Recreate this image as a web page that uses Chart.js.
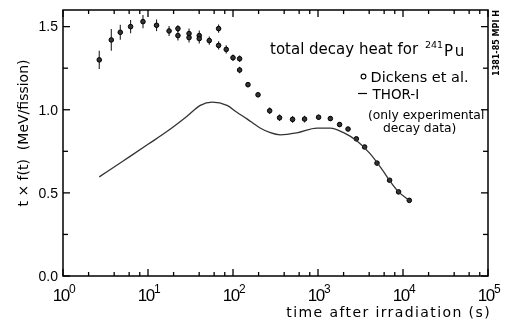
<!DOCTYPE html>
<html>
<head>
<meta charset="utf-8">
<script src="https://cdn.jsdelivr.net/npm/chart.js@4.4.1/dist/chart.umd.min.js"></script>
<style>
html,body{margin:0;padding:0;background:#fff;}
#wrap{width:511px;height:329px;}
</style>
</head>
<body>
<div id="wrap"><canvas id="c" width="511" height="329"></canvas></div>
<script>
// Dickens et al. measured points (time s, t*f(t) MeV/fission, error bar half-height)
const dickensT    = [2.67, 3.7, 4.72, 6.24, 8.73, 12.6, 17.7, 22.5, 22.5, 30.4, 30.4, 40.1, 40.1, 52.6, 67.7, 67.7, 83.3, 100, 119.6, 119.6, 150, 197, 270, 353, 502, 695, 1016, 1397, 1795, 2256, 2825, 3535, 4945, 6956, 8870, 11860];
const dickensHeat = [1.30, 1.42, 1.466, 1.50, 1.53, 1.508, 1.474, 1.488, 1.446, 1.458, 1.434, 1.446, 1.428, 1.416, 1.488, 1.387, 1.363, 1.313, 1.307, 1.239, 1.151, 1.09, 0.994, 0.952, 0.942, 0.944, 0.955, 0.947, 0.911, 0.884, 0.825, 0.776, 0.679, 0.576, 0.506, 0.455];
const dickensErr  = [0.055, 0.065, 0.045, 0.04, 0.04, 0.035, 0.03, 0.02, 0.03, 0.03, 0.03, 0.03, 0.03, 0.025, 0.025, 0.025, 0.025, 0.02, 0.02, 0.02, 0.015, 0.015, 0.02, 0.02, 0.02, 0.02, 0.015, 0.015, 0.015, 0.01, 0.01, 0.01, 0.01, 0.01, 0.01, 0.01];
// THOR-I calculation curve
const thorT    = [2.67, 5, 10, 18, 28.8, 41.2, 57, 85, 111, 146, 206, 275, 360, 566, 973, 1396, 2000, 2877, 4121, 5912, 6956, 8870, 11860];
const thorHeat = [0.596, 0.689, 0.792, 0.881, 0.961, 1.026, 1.046, 1.026, 0.985, 0.945, 0.892, 0.862, 0.849, 0.861, 0.889, 0.889, 0.862, 0.812, 0.735, 0.628, 0.574, 0.506, 0.455];
// axis ticks
const xTickExponents = [0, 1, 2, 3, 4, 5];
const xMinorMultipliers = [2, 4, 6, 8];
const yTickValues = [0, 0.5, 1.0, 1.5];
const yTickLabels = ['0.0', '0.5', '1.0', '1.5'];
const yMinorValues = [0.25, 0.75, 1.25];

const dickensData = dickensT.map((t, i) => ({x: t, y: dickensHeat[i]}));
const thorData = thorT.map((t, i) => ({x: t, y: thorHeat[i]}));

const decor = {
  id: 'decor',
  beforeDatasetsDraw(chart) {
    const {ctx} = chart;
    const xs = chart.scales.x, ys = chart.scales.y;
    ctx.save();
    ctx.strokeStyle = '#222';
    ctx.lineWidth = 1.1;
    dickensT.forEach((t, i) => {
      const px = xs.getPixelForValue(t);
      ctx.beginPath();
      ctx.moveTo(px, ys.getPixelForValue(dickensHeat[i] - dickensErr[i]));
      ctx.lineTo(px, ys.getPixelForValue(dickensHeat[i] + dickensErr[i]));
      ctx.stroke();
    });
    ctx.restore();
  },
  afterDraw(chart) {
    const {ctx, chartArea: a} = chart;
    const xs = chart.scales.x, ys = chart.scales.y;
    ctx.save();
    ctx.strokeStyle = '#000';
    ctx.fillStyle = '#000';
    ctx.lineWidth = 1.5;
    ctx.strokeRect(a.left, a.top, a.right - a.left, a.bottom - a.top);
    ctx.lineWidth = 1.3;
    const vt = (px, len) => {
      ctx.beginPath(); ctx.moveTo(px, a.bottom); ctx.lineTo(px, a.bottom - len); ctx.stroke();
      ctx.beginPath(); ctx.moveTo(px, a.top); ctx.lineTo(px, a.top + len); ctx.stroke();
    };
    const ht = (py, len) => {
      ctx.beginPath(); ctx.moveTo(a.left, py); ctx.lineTo(a.left + len, py); ctx.stroke();
      ctx.beginPath(); ctx.moveTo(a.right, py); ctx.lineTo(a.right - len, py); ctx.stroke();
    };
    xTickExponents.forEach(e => {
      vt(xs.getPixelForValue(Math.pow(10, e)), 7);
      if (e < 5) xMinorMultipliers.forEach(m => vt(xs.getPixelForValue(m * Math.pow(10, e)), 4));
    });
    yTickValues.forEach(v => ht(ys.getPixelForValue(v), 7));
    yMinorValues.forEach(v => ht(ys.getPixelForValue(v), 5));

    // y tick labels
    ctx.font = '14px "Liberation Sans"';
    ctx.textAlign = 'right';
    ctx.textBaseline = 'middle';
    yTickValues.forEach((v, i) => ctx.fillText(yTickLabels[i], a.left - 5, ys.getPixelForValue(v) + 1));

    // x tick labels: 10 with superscript exponent
    ctx.textBaseline = 'alphabetic';
    xTickExponents.forEach(e => {
      const px = xs.getPixelForValue(Math.pow(10, e));
      ctx.font = '17px "Liberation Sans Narrow", "Liberation Sans"';
      ctx.letterSpacing = '-1.5px';
      const base = '10';
      const wb = ctx.measureText(base).width;
      ctx.font = '12px "Liberation Sans"';
      ctx.letterSpacing = '0px';
      const we = ctx.measureText(String(e)).width;
      const x0 = px - (wb + we) / 2 + 1;
      ctx.textAlign = 'left';
      ctx.font = '17px "Liberation Sans Narrow", "Liberation Sans"';
      ctx.letterSpacing = '-1.5px';
      ctx.fillText(base, x0, 300.5);
      ctx.font = '12px "Liberation Sans"';
      ctx.letterSpacing = '0px';
      ctx.fillText(String(e), x0 + wb + 0.5, 292.5);
    });

    // x axis title
    ctx.font = '14px "DejaVu Sans"';
    ctx.letterSpacing = '1.4px';
    ctx.textAlign = 'right';
    ctx.fillText('time after irradiation (s)', 491, 316.5);
    ctx.letterSpacing = '0px';

    // y axis title
    ctx.save();
    ctx.translate(28, 133);
    ctx.rotate(-Math.PI / 2);
    ctx.textAlign = 'center';
    ctx.font = '14px "DejaVu Sans"';
    ctx.fillText('t × f(t)  (MeV/fission)', 0, 0);
    ctx.restore();

    // plot title text
    ctx.textAlign = 'left';
    ctx.font = '15px "DejaVu Sans"';
    ctx.fillText('total decay heat for', 270, 54);
    ctx.font = '9.5px "DejaVu Sans"';
    ctx.fillText('241', 425, 47.5);
    ctx.font = '15px "DejaVu Sans"';
    ctx.letterSpacing = '2px';
    ctx.fillText('Pu', 444, 56);
    ctx.letterSpacing = '0px';

    // legend
    ctx.lineWidth = 1.1;
    ctx.beginPath(); ctx.arc(363.5, 76.5, 2.4, 0, Math.PI * 2); ctx.stroke();
    ctx.font = '14.5px "DejaVu Sans"';
    ctx.fillText('Dickens et al.', 370.5, 81.5);
    ctx.lineWidth = 1.2;
    ctx.beginPath(); ctx.moveTo(358, 93.5); ctx.lineTo(367, 93.5); ctx.stroke();
    ctx.font = '13.5px "DejaVu Sans"';
    ctx.fillText('THOR-I', 372.5, 98.5);
    ctx.font = '12.3px "DejaVu Sans"';
    ctx.fillText('(only experimental', 368, 118.5);
    ctx.fillText('decay data)', 383, 132);

    // side stamp
    ctx.save();
    ctx.translate(499, 43);
    ctx.rotate(-Math.PI / 2);
    ctx.textAlign = 'center';
    ctx.font = 'bold 8px "DejaVu Sans"';
    ctx.fillText('1381-85 MPI H', 0, 0);
    ctx.restore();

    ctx.restore();
  }
};

new Chart(document.getElementById('c'), {
  type: 'scatter',
  data: {
    datasets: [
      {
        type: 'line',
        label: 'THOR-I',
        data: thorData,
        borderColor: '#333',
        borderWidth: 1.3,
        pointRadius: 0,
        fill: false,
        cubicInterpolationMode: 'monotone'
      },
      {
        label: 'Dickens et al.',
        data: dickensData,
        pointStyle: 'circle',
        pointRadius: 2.3,
        backgroundColor: '#333',
        borderColor: '#000',
        borderWidth: 1
      }
    ]
  },
  options: {
    responsive: false,
    animation: false,
    events: [],
    layout: {padding: {top: 10, right: 23, left: 0, bottom: 0}},
    plugins: {legend: {display: false}, tooltip: {enabled: false}},
    scales: {
      x: {
        type: 'logarithmic', min: 1, max: 100000,
        grid: {display: false}, border: {display: false},
        ticks: {display: false},
        afterFit: s => { s.height = 53; }
      },
      y: {
        type: 'linear', min: 0, max: 1.6,
        grid: {display: false}, border: {display: false},
        ticks: {display: false},
        afterFit: s => { s.width = 63; }
      }
    }
  },
  plugins: [decor]
});
</script>
</body>
</html>
